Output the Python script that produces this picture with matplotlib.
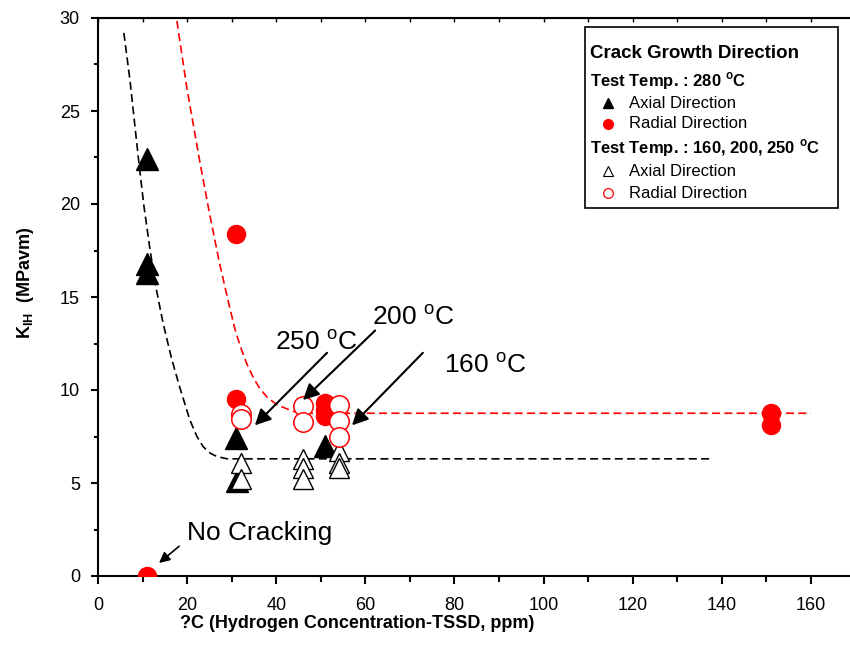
import numpy as np
import matplotlib
matplotlib.use("Agg")
import matplotlib.pyplot as plt
from matplotlib.lines import Line2D
from matplotlib.patches import Rectangle
from matplotlib.ticker import MultipleLocator

plt.rcParams['font.family'] = ['Liberation Sans', 'DejaVu Sans']
plt.rcParams['mathtext.fontset'] = 'custom'
plt.rcParams['mathtext.rm'] = 'Liberation Sans'
plt.rcParams['mathtext.bf'] = 'Liberation Sans:bold'

# test temp 280 C
axial_280_x = [11, 11, 11, 31, 31.3, 51]
axial_280_y = [22.4, 16.8, 16.3, 7.4, 5.1, 7.0]
radial_280_x = [11, 31, 31, 51, 51, 51, 151, 151]
radial_280_y = [0, 18.4, 9.5, 9.3, 8.9, 8.6, 8.75, 8.1]

# test temp 160, 200, 250 C
axial_low_x = [32, 32, 46, 46, 46, 54, 54, 54]
axial_low_y = [6.1, 5.2, 6.3, 5.8, 5.2, 6.7, 6.1, 5.8]
radial_low_x = [32, 32, 46, 46, 54, 54, 54]
radial_low_y = [8.7, 8.45, 9.15, 8.3, 9.2, 8.35, 7.5]

# dashed trend curves
axial_fit_x = [5.8, 7.2, 8.1, 9.0, 10.3, 11.7, 13.1, 14.6, 16.5, 18.4, 20.6, 22.2, 23.6,
               25.2, 26.7, 29.0, 138]
axial_fit_y = [29.2, 26.6, 24.6, 22.6, 19.9, 17.5, 15.4, 13.6, 11.7, 10.1, 8.4, 7.5, 6.95,
               6.6, 6.42, 6.3, 6.3]
radial_fit_x = [17.3, 19.9, 22.9, 25.1, 27.2, 29.2, 30.7, 32.0, 33.4, 35.0, 36.4, 38.0,
                40.2, 43.8, 47.0, 160]
radial_fit_y = [30.5, 26.3, 22.2, 19.4, 16.9, 14.8, 13.3, 12.3, 11.4, 10.6, 10.05, 9.6,
                9.2, 8.85, 8.75, 8.75]

W, H = 850, 666
fig = plt.figure(figsize=(W / 100, H / 100), dpi=100)
ax = fig.add_axes([98 / W, 90 / H, 752 / W, 558 / H])


def fx(px):
    return px / W


def fy(py):
    return 1 - py / H


dash = (0, (4.8, 2.6))
ax.plot(axial_fit_x, axial_fit_y, color='black', lw=1.2, linestyle=dash, zorder=2)
ax.plot(radial_fit_x, radial_fit_y, color='red', lw=1.2, linestyle=dash, zorder=2)

ax.plot(axial_280_x, axial_280_y, '^', color='black', ms=15.5, ls='none', zorder=3)
ax.plot(radial_280_x, radial_280_y, 'o', color='red', ms=13, ls='none', zorder=3)
ax.plot(axial_low_x, axial_low_y, '^', mfc='white', mec='black', mew=1.0, ms=15,
        ls='none', zorder=4)
ax.plot(radial_low_x, radial_low_y, 'o', mfc='white', mec='red', mew=1.1, ms=14,
        ls='none', zorder=4)

ax.set_xlim(0, 752 / 4.456)
ax.set_ylim(0, 30)
ax.xaxis.set_major_locator(MultipleLocator(20))
ax.xaxis.set_minor_locator(MultipleLocator(10))
ax.yaxis.set_major_locator(MultipleLocator(5))
ax.yaxis.set_minor_locator(MultipleLocator(2.5))
ax.tick_params(axis='both', which='major', labelsize=13, width=1.5)
ax.tick_params(axis='x', which='major', length=6, pad=9)
ax.tick_params(axis='x', which='minor', length=4, width=1.5)
ax.tick_params(axis='y', which='major', length=5, pad=8)
ax.tick_params(axis='y', which='minor', length=3, width=1.5)
for s in ['left', 'bottom', 'top']:
    ax.spines[s].set_linewidth(1.5)
ax.spines['right'].set_visible(False)

top = ax.secondary_xaxis('top')
top.set_xticks(np.arange(0, 170, 10))
top.tick_params(direction='in', length=3, width=1, labeltop=False)

# arrows and notes
arrow = dict(arrowstyle='-|>', color='black', lw=1.5, mutation_scale=24, shrinkA=0, shrinkB=0)
ax.annotate('', xy=(35.2, 8.1), xytext=(51.4, 12.0), arrowprops=arrow, zorder=5)
ax.annotate('', xy=(46.0, 9.46), xytext=(62.2, 13.2), arrowprops=arrow, zorder=5)
ax.annotate('', xy=(57.0, 8.1), xytext=(72.9, 12.0), arrowprops=arrow, zorder=5)
ax.annotate('', xy=(13.7, 0.7), xytext=(18.2, 1.6),
            arrowprops=dict(arrowstyle='-|>', color='black', lw=1.2, mutation_scale=16,
                            shrinkA=0, shrinkB=0), zorder=5)

ax.text(39.7, 12.15, r'250 $^{\mathrm{o}}$C', fontsize=19, va='baseline', zorder=5)
ax.text(61.5, 13.5, r'200 $^{\mathrm{o}}$C', fontsize=19, va='baseline', zorder=5)
ax.text(77.6, 10.9, r'160 $^{\mathrm{o}}$C', fontsize=19, va='baseline', zorder=5)
ax.text(20.0, 1.94, 'No Cracking', fontsize=19, va='baseline', zorder=5)

# axis titles
fig.text(fx(357), fy(623), '?C (Hydrogen Concentration-TSSD, ppm)', fontsize=13,
         fontweight='bold', ha='center', va='center')
fig.text(fx(25), fy(283), r'K$_{\mathbf{IH}}$  (MPavm)', fontsize=13, fontweight='bold',
         rotation=90, ha='center', va='center')

# legend box drawn by hand
fig.add_artist(Rectangle((fx(585), fy(208)), (838 - 585) / W, (208 - 27) / H,
                         transform=fig.transFigure, fill=False, ec='black', lw=1.2))
fig.text(fx(590), fy(54), 'Crack Growth Direction', fontsize=13.5, fontweight='bold',
         va='center')
fig.text(fx(590), fy(81), r'Test Temp. : 280 $^{\mathbf{o}}$C', fontsize=12,
         fontweight='bold', va='center')
fig.text(fx(590), fy(148), r'Test Temp. : 160, 200, 250 $^{\mathbf{o}}$C', fontsize=12,
         fontweight='bold', va='center')
entries = [
    (103, dict(marker='^', color='black', ms=7), 'Axial Direction'),
    (124, dict(marker='o', color='red', ms=7), 'Radial Direction'),
    (171, dict(marker='^', mfc='white', mec='black', mew=0.8, ms=7), 'Axial Direction'),
    (193, dict(marker='o', mfc='white', mec='red', mew=0.9, ms=7), 'Radial Direction'),
]
for py, style, label in entries:
    fig.add_artist(Line2D([fx(608)], [fy(py)], ls='none', transform=fig.transFigure, **style))
    fig.text(fx(629), fy(py), label, fontsize=12, va='center')

fig.savefig('out.png', dpi=100)
